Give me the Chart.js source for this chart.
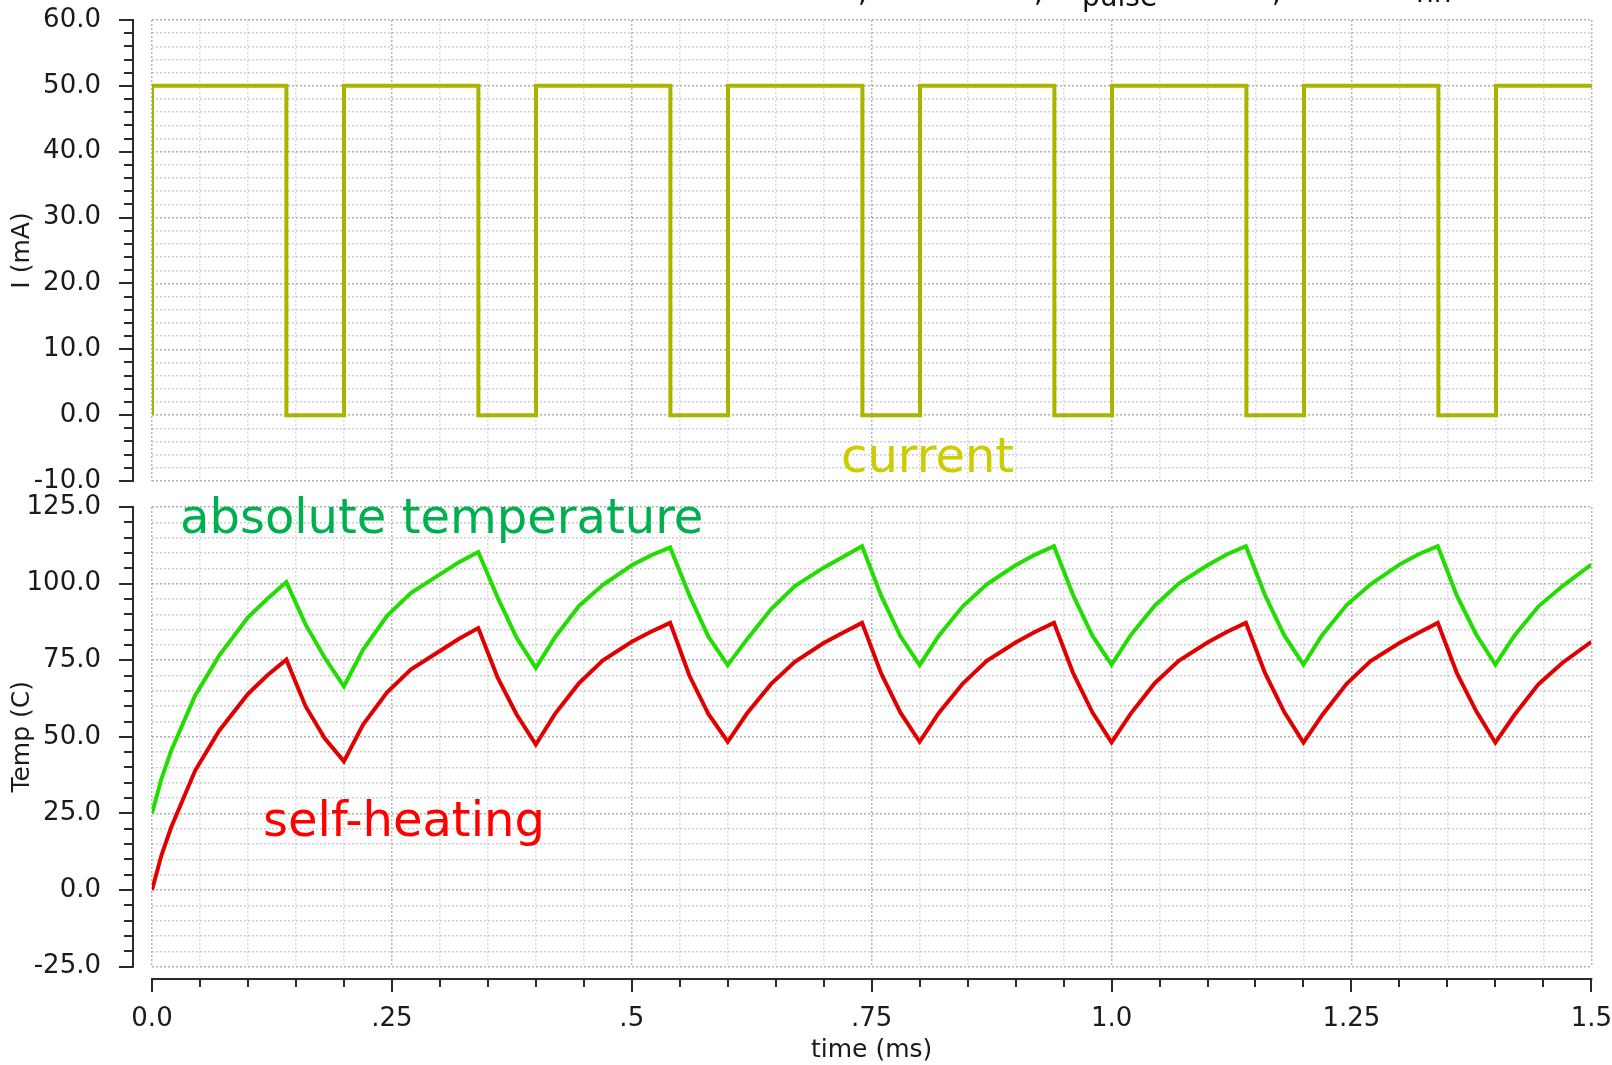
<!DOCTYPE html>
<html>
<head>
<meta charset="utf-8">
<script src="https://cdn.jsdelivr.net/npm/chart.js@4.4.1/dist/chart.umd.min.js"></script>
<style>
  html, body { margin: 0; padding: 0; background: #fff; }
  #wrap { position: relative; width: 1612px; height: 1065px; overflow: hidden; }
  canvas { position: absolute; left: 0; }
  #topChart { top: 0; }
  #bottomChart { top: 494px; }
</style>
</head>
<body>
<div id="wrap">
  <canvas id="topChart" width="1612" height="494"></canvas>
  <canvas id="bottomChart" width="1612" height="571"></canvas>
</div>
<script>
// pulse current (mA), stepped
const currentTimes  = [0, 0, 0.14, 0.2, 0.34, 0.4, 0.54, 0.6, 0.74, 0.8, 0.94, 1.0, 1.14, 1.2, 1.34, 1.4, 1.5];
const currentValues = [0, 50, 0,   50,  0,    50,  0,    50,  0,    50,  0,    50,  0,    50,  0,    50,  50];

// temperature sample times (ms)
const tempTimes = [
  0, 0.01, 0.02, 0.045, 0.07, 0.1, 0.12, 0.14, 0.16, 0.18,
  0.2, 0.22, 0.245, 0.27, 0.3, 0.32, 0.34, 0.36, 0.38,
  0.4, 0.42, 0.445, 0.47, 0.5, 0.52, 0.54, 0.56, 0.58,
  0.6, 0.62, 0.645, 0.67, 0.7, 0.72, 0.74, 0.76, 0.78,
  0.8, 0.82, 0.845, 0.87, 0.9, 0.92, 0.94, 0.96, 0.98,
  1.0, 1.02, 1.045, 1.07, 1.1, 1.12, 1.14, 1.16, 1.18,
  1.2, 1.22, 1.245, 1.27, 1.3, 1.32, 1.34, 1.36, 1.38,
  1.4, 1.42, 1.445, 1.47, 1.5
];
// absolute temperature (C)
const absoluteTemp = [
  25, 36.5, 45.5, 63.5, 76.5, 89, 95, 100.5, 86.7, 75.8,
  66.5, 78.5, 89.5, 97, 103, 107, 110.3, 95.6, 82.3,
  72.5, 82.5, 92.7, 99.6, 106, 109.2, 111.8, 96.2, 82.6,
  73.4, 81.8, 91.6, 99.2, 105.2, 108.7, 112.2, 96.0, 82.8,
  73.4, 83.0, 92.6, 99.8, 106.0, 109.4, 112.2, 96.2, 83.0,
  73.6, 83.2, 92.8, 100.0, 106.0, 109.5, 112.2, 96.2, 83.1,
  73.6, 83.4, 93.0, 99.8, 106.2, 109.6, 112.2, 96.0, 83.4,
  73.6, 83.1, 92.6, 99.2, 106.2
];
// self-heating (C)
const selfHeating = [
  0, 11.5, 20.5, 39, 52, 64, 70, 75.2, 60, 49.5,
  42, 54, 64.5, 72, 78, 82, 85.5, 69.5, 57.3,
  47.5, 57.5, 67.5, 75, 81, 84.3, 87.2, 70, 57.4,
  48.4, 57.6, 67.2, 74.5, 80.6, 84.0, 87.2, 70.6, 57.9,
  48.4, 57.8, 67.4, 74.8, 80.8, 84.2, 87.2, 70.8, 58.0,
  48.2, 57.6, 67.5, 74.8, 80.8, 84.2, 87.2, 70.8, 58.1,
  48.1, 57.3, 67.3, 74.7, 80.6, 84.0, 87.2, 70.7, 58.4,
  48.1, 57.2, 67.2, 74.2, 81.0
];

const xTickLabels = ['0.0', '.25', '.5', '.75', '1.0', '1.25', '1.5'];

const FONT = "'DejaVu Sans', Verdana, sans-serif";
const near = (v, step) => Math.abs(v / step - Math.round(v / step)) < 1e-6;
const pts = (xs, ys) => xs.map((x, i) => ({ x: x, y: ys[i] }));

// axis lines, tick marks and text labels drawn next to the plot area
const decor = {
  id: 'decor',
  afterDraw(chart, args, o) {
    const ctx = chart.ctx;
    const ys = chart.scales.y;
    ctx.save();
    ctx.strokeStyle = '#2a2a2a';
    ctx.lineWidth = 2;
    ctx.beginPath();
    ctx.moveTo(o.yAxisX, ys.getPixelForValue(ys.max) - 1);
    ctx.lineTo(o.yAxisX, ys.getPixelForValue(ys.min) + 1);
    ys.ticks.forEach(t => {
      const py = Math.round(ys.getPixelForValue(t.value));
      const len = near(t.value, o.yMajor) ? 14 : 9;
      ctx.moveTo(o.yAxisX - len, py);
      ctx.lineTo(o.yAxisX, py);
    });
    ctx.stroke();

    if (o.xAxisY) {
      const xs = chart.scales.x;
      ctx.beginPath();
      ctx.moveTo(xs.getPixelForValue(xs.min) - 1, o.xAxisY);
      ctx.lineTo(xs.getPixelForValue(xs.max) + 1, o.xAxisY);
      xs.ticks.forEach(t => {
        const px = Math.round(xs.getPixelForValue(t.value));
        const len = near(t.value, 0.25) ? 13 : 8;
        ctx.moveTo(px, o.xAxisY);
        ctx.lineTo(px, o.xAxisY + len);
      });
      ctx.stroke();
    }

    (o.labels || []).forEach(l => {
      ctx.font = l.font;
      ctx.fillStyle = l.color;
      ctx.textBaseline = 'alphabetic';
      ctx.textAlign = 'left';
      ctx.fillText(l.text, l.x, l.y);
    });
    ctx.restore();
  }
};

function yScale(min, max, step, major, title) {
  return {
    type: 'linear',
    min: min,
    max: max,
    afterFit: s => { s.width = 152; },
    ticks: {
      stepSize: step,
      autoSkip: false,
      padding: 0,
      color: '#1a1a1a',
      font: { family: FONT, size: 26, lineHeight: 1 },
      callback: v => near(v, major) ? Number(v).toFixed(1) : ''
    },
    grid: {
      drawTicks: true,
      tickLength: 51,
      tickWidth: 0,
      lineWidth: 1.5,
      color: c => near(c.tick.value, major) ? 'rgba(150,150,150,0.75)' : 'rgba(175,175,175,0.6)'
    },
    border: { display: false, dash: [2, 2] },
    title: {
      display: true,
      text: title,
      color: '#1a1a1a',
      font: { family: FONT, size: 25 },
      padding: { top: 7, bottom: 0 }
    }
  };
}

function xScale(showLabels) {
  return {
    type: 'linear',
    min: 0,
    max: 1.5,
    afterFit: s => { s.height = showLabels ? 98.3 : 0; },
    ticks: {
      display: showLabels,
      stepSize: 0.05,
      autoSkip: false,
      maxRotation: 0,
      padding: 0,
      color: '#1a1a1a',
      font: { family: FONT, size: 26, lineHeight: 1 },
      callback: v => near(v, 0.25) ? xTickLabels[Math.round(v * 4)] : ''
    },
    grid: {
      drawTicks: showLabels,
      tickLength: 40,
      tickWidth: 0,
      lineWidth: 1.5,
      color: c => near(c.tick.value, 0.25) ? 'rgba(160,160,160,0.8)' : 'rgba(195,195,195,0.6)'
    },
    border: { display: false, dash: [2, 2] },
    title: {
      display: showLabels,
      text: 'time (ms)',
      color: '#1a1a1a',
      font: { family: FONT, size: 25 },
      padding: { top: 0, bottom: 0 }
    }
  };
}

new Chart(document.getElementById('topChart'), {
  type: 'line',
  data: {
    datasets: [{
      label: 'current',
      data: pts(currentTimes, currentValues),
      stepped: 'before',
      borderColor: '#a9b400',
      borderWidth: 4,
      pointRadius: 0,
      fill: false
    }]
  },
  options: {
    responsive: false,
    animation: false,
    layout: { padding: { top: 20, right: 20, bottom: 12.5, left: 0 } },
    scales: {
      x: xScale(false),
      y: yScale(-10, 60, 2, 10, 'I (mA)')
    },
    plugins: {
      legend: { display: false },
      tooltip: { enabled: false },
      decor: {
        yAxisX: 133,
        yMajor: 10,
        labels: [
          { text: 'current', x: 841, y: 472, color: '#cccc00', font: '48px ' + FONT },
          { text: ',', x: 858, y: 2, color: '#111', font: '28px ' + FONT },
          { text: ',', x: 1034, y: 2, color: '#111', font: '28px ' + FONT },
          { text: 'pulse', x: 1082, y: 6, color: '#111', font: '28px ' + FONT },
          { text: ',', x: 1272, y: 2, color: '#111', font: '28px ' + FONT },
          { text: 'nn', x: 1416, y: 2, color: '#111', font: '28px ' + FONT }
        ]
      }
    }
  },
  plugins: [decor]
});

new Chart(document.getElementById('bottomChart'), {
  type: 'line',
  data: {
    datasets: [{
      label: 'absolute temperature',
      data: pts(tempTimes, absoluteTemp),
      borderColor: '#22dd00',
      borderWidth: 4,
      pointRadius: 0,
      tension: 0,
      fill: false
    }, {
      label: 'self-heating',
      data: pts(tempTimes, selfHeating),
      borderColor: '#e00000',
      borderWidth: 4,
      pointRadius: 0,
      tension: 0,
      fill: false
    }]
  },
  options: {
    responsive: false,
    animation: false,
    layout: { padding: { top: 12.7, right: 20, bottom: 0, left: 0 } },
    scales: {
      x: xScale(true),
      y: yScale(-25, 125, 5, 25, 'Temp (C)')
    },
    plugins: {
      legend: { display: false },
      tooltip: { enabled: false },
      decor: {
        yAxisX: 133,
        yMajor: 25,
        xAxisY: 485,
        labels: [
          { text: 'absolute temperature', x: 180, y: 39, color: '#00b050', font: '48px ' + FONT },
          { text: 'self-heating', x: 263, y: 342, color: '#ff0000', font: '48px ' + FONT }
        ]
      }
    }
  },
  plugins: [decor]
});
</script>
</body>
</html>
